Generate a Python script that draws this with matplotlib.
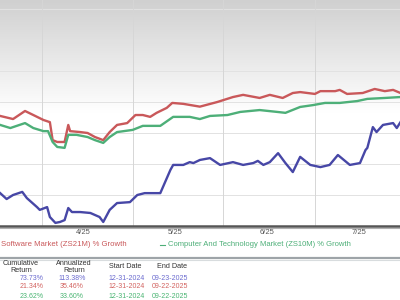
import matplotlib.pyplot as plt
import matplotlib.transforms as mtransforms
import numpy as np
from matplotlib.colors import LinearSegmentedColormap

# x in months of 2025 (4.0 = start of April), y in % growth
red_x = [3.10, 3.24, 3.37, 3.46, 3.57, 3.64, 3.67, 3.72, 3.80, 3.84, 3.86, 3.97, 4.05,
         4.13, 4.22, 4.29, 4.37, 4.48, 4.57, 4.65, 4.73, 4.80, 4.91, 4.97, 5.09, 5.27,
         5.46, 5.63, 5.74, 5.92, 6.03, 6.17, 6.28, 6.36, 6.52, 6.58, 6.74, 6.79, 6.87,
         7.04, 7.17, 7.28, 7.37, 7.45]
red_y = [35.5, 34.5, 37.1, 35.8, 34.2, 33.5, 27.7, 27.1, 27.1, 32.6, 30.6, 30.3, 30.0,
         28.7, 27.7, 30.3, 32.6, 33.2, 35.8, 35.8, 35.2, 36.5, 38.1, 39.7, 39.4, 38.5,
         40.0, 41.6, 42.3, 41.3, 42.3, 41.3, 42.9, 43.2, 42.6, 43.5, 43.5, 43.9, 42.6,
         42.9, 44.2, 43.5, 43.9, 42.9]

green_x = [3.10, 3.21, 3.37, 3.46, 3.57, 3.62, 3.67, 3.72, 3.80, 3.84, 3.93, 4.05, 4.13,
           4.22, 4.29, 4.37, 4.54, 4.65, 4.84, 4.98, 5.16, 5.27, 5.38, 5.57, 5.71, 5.92,
           6.11, 6.20, 6.36, 6.50, 6.63, 6.79, 6.98, 7.09, 7.28, 7.45]
green_y = [32.6, 31.6, 33.2, 31.6, 30.6, 30.6, 27.1, 25.5, 25.2, 29.4, 29.4, 28.7, 27.7,
           26.8, 28.7, 30.3, 31.0, 32.3, 32.3, 35.2, 35.2, 34.5, 35.5, 35.8, 36.8, 37.4,
           36.8, 36.5, 38.4, 39.0, 39.7, 39.7, 40.3, 41.0, 41.3, 41.6]

blue_x = [3.10, 3.17, 3.24, 3.34, 3.39, 3.50, 3.53, 3.61, 3.64, 3.70, 3.75, 3.80, 3.84,
          3.88, 3.97, 4.08, 4.18, 4.22, 4.29, 4.37, 4.51, 4.59, 4.67, 4.78, 4.84, 4.95,
          4.98, 5.09, 5.16, 5.20, 5.27, 5.38, 5.49, 5.63, 5.74, 5.85, 5.90, 5.96, 6.03,
          6.12, 6.20, 6.28, 6.36, 6.47, 6.58, 6.68, 6.77, 6.90, 7.01, 7.07, 7.09, 7.15,
          7.19, 7.26, 7.37, 7.41, 7.45]
blue_y = [10.6, 8.7, 10.0, 11.0, 9.0, 6.1, 5.2, 6.1, 2.9, 1.0, 1.3, 1.9, 5.8,
          4.5, 4.5, 4.2, 2.9, 1.3, 5.2, 7.4, 7.7, 10.0, 10.6, 10.6, 10.6, 18.1,
          19.7, 19.7, 20.6, 20.3, 21.3, 21.9, 19.7, 20.6, 19.7, 20.3, 21.0, 19.7, 20.6,
          23.5, 20.3, 17.4, 22.3, 19.7, 19.0, 19.7, 22.9, 19.7, 20.3, 24.5, 25.2, 31.9,
          30.3, 32.6, 33.2, 31.6, 33.5]

month_ticks = [3, 4, 5, 6, 7]
month_labels = ["3/25", "4/25", "5/25", "6/25", "7/25"]
grid_months = [3.55, 4.54, 5.52, 6.52]

legend_red = "Software Market (ZS21M) % Growth"
legend_green = "Computer And Technology Market (ZS10M) % Growth"

table_headers = ["Cumulative\nReturn", "Annualized\nReturn", "Start Date", "End Date"]
table_rows = [
    ["73.73%", "113.38%", "12-31-2024", "09-23-2025"],
    ["21.34%", "35.46%", "12-31-2024", "09-22-2025"],
    ["23.62%", "33.60%", "12-31-2024", "09-22-2025"],
]

RED = "#c9585a"
GREEN = "#4daf78"
BLUE = "#4747a6"
row_colors = ["#6b6bcf", "#d2625f", "#49b472"]

fig = plt.figure(figsize=(4, 3), dpi=100)
fig.patch.set_facecolor("white")
ax = fig.add_axes([0, 1 - 226 / 300, 1, 226 / 300])

xmin, xmax = 3.098, 7.445
ymin, ymax = 0, 72.9
ax.set_xlim(xmin, xmax)
ax.set_ylim(ymin, ymax)

# grey-to-white gradient at the top of the plot area
grad = np.clip(np.linspace(0, 1, 226) / 0.5, 0, 1).reshape(-1, 1)
cmap = LinearSegmentedColormap.from_list("bg", ["#d0d0d0", "#ffffff"])
ax.imshow(grad, extent=[xmin, xmax, ymin, ymax], origin="upper", aspect="auto",
          cmap=cmap, zorder=0, interpolation="bilinear")

for gy in range(10, 80, 10):
    ax.axhline(gy, color="#e2e2e2", lw=0.7, zorder=1)
for gx in grid_months:
    ax.axvline(gx, color="#d6d6d6", lw=0.7, zorder=1)

ax.plot(red_x, red_y, color=RED, lw=1.7, zorder=3)
ax.plot(green_x, green_y, color=GREEN, lw=1.7, zorder=3)
ax.plot(blue_x, blue_y, color=BLUE, lw=1.7, zorder=3)

for s in ["top", "left", "right"]:
    ax.spines[s].set_visible(False)
ax.spines["bottom"].set_color("#555555")
ax.spines["bottom"].set_linewidth(1.8)
ax.set_xticks([])
ax.set_yticks([])
fig.lines.append(plt.Line2D([0, 1], [1 - 228 / 300] * 2, transform=fig.transFigure,
                            color="#b0b0b0", lw=0.8))

trans = mtransforms.blended_transform_factory(ax.transData, fig.transFigure)
for m, lab in zip(month_ticks, month_labels):
    ax.text(m, 1 - 233 / 300, lab, transform=trans, ha="center", va="center",
            fontsize=5.5, color="#555555", family="Liberation Sans", clip_on=False)

# legend strip
fig.text(0.003, 1 - 245 / 300, legend_red, color=RED, fontsize=5.6,
         family="Liberation Sans", va="center", ha="left")
fig.lines.append(plt.Line2D([160 / 400, 165 / 400], [1 - 245 / 300] * 2,
                            transform=fig.transFigure, color=GREEN, lw=0.8))
fig.text(168 / 400, 1 - 245 / 300, legend_green, color=GREEN, fontsize=5.5,
         family="Liberation Sans", va="center", ha="left")
fig.lines.append(plt.Line2D([0, 1], [1 - 257.5 / 300] * 2, transform=fig.transFigure,
                            color="#9ea4a8", lw=1.6))
fig.lines.append(plt.Line2D([0, 1], [1 - 259.5 / 300] * 2, transform=fig.transFigure,
                            color="#d8dcde", lw=0.8))

# returns table
head_x = [21, 74, 125, 172]
val_x = [32, 72, 127, 170]
for cx, head in zip(head_x, table_headers):
    fig.text(cx / 400, 1 - 267 / 300, head, ha="center", va="center", fontsize=5.2,
             color="#333333", family="Liberation Sans", linespacing=1.0)
row_y = [278, 287, 296]
for ry, row, col in zip(row_y, table_rows, row_colors):
    for cx, val in zip(val_x, row):
        fig.text(cx / 400, 1 - ry / 300, val, ha="center", va="center", fontsize=5,
                 color=col, family="Liberation Sans")

fig.savefig("out.png", dpi=100)
